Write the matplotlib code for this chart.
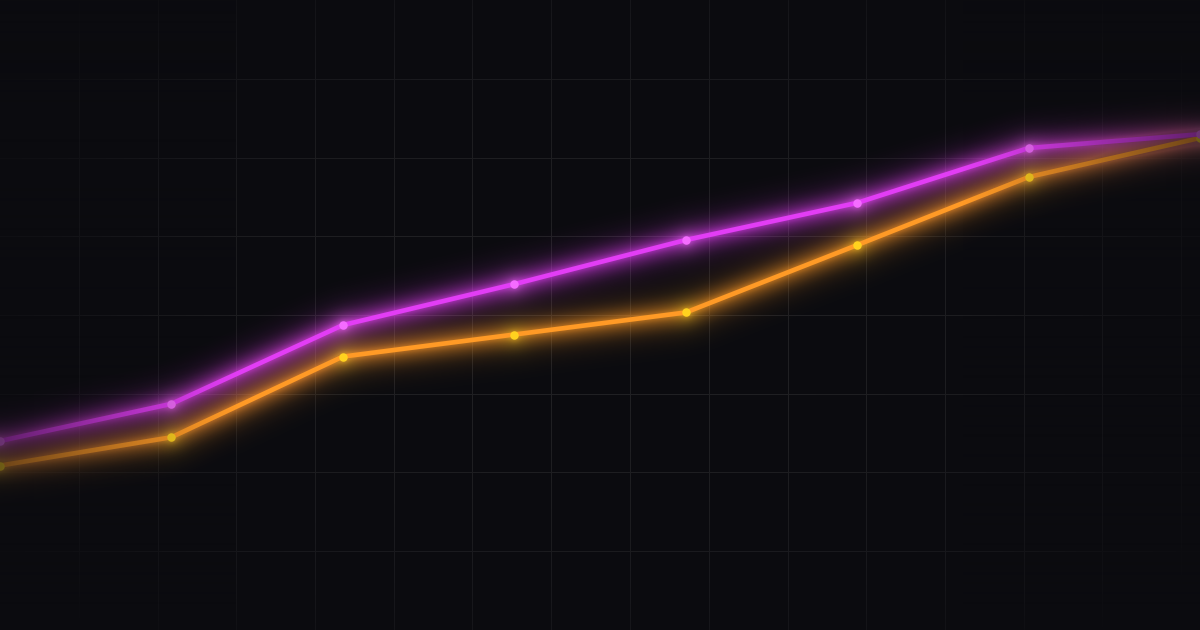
import numpy as np
import matplotlib
matplotlib.use("Agg")
import matplotlib.pyplot as plt
from matplotlib.colors import to_rgb

# ---- data ----
categories = ["P1", "P2", "P3", "P4", "P5", "P6", "P7", "P8"]
series_purple = [30.0, 35.9, 48.4, 54.9, 61.9, 67.8, 76.5, 78.7]
series_orange = [26.1, 30.6, 43.4, 46.9, 50.4, 61.1, 71.9, 78.1]

# ---- style ----
BG = "#0b0b0f"
PURPLE = "#e23df5"
PURPLE_DOT = "#f46cff"
ORANGE = "#ff9a26"
ORANGE_DOT = "#ffd21f"

W, H, DPI = 1200, 630, 100
PX = 72.0 / DPI  # points per pixel
x = np.arange(len(categories))
XLIM = (0, len(categories) - 1)
YLIM = (0, 100)

series = [(series_orange, ORANGE, ORANGE_DOT), (series_purple, PURPLE, PURPLE_DOT)]

# ---- offscreen glow source (same scales) ----
fig2 = plt.figure(figsize=(W / DPI, H / DPI), dpi=DPI, facecolor="black")
ax2 = fig2.add_axes([0, 0, 1, 1])
ax2.set_facecolor("black")
ax2.set_xlim(*XLIM)
ax2.set_ylim(*YLIM)
ax2.axis("off")
for vals, c, dc in series:
    ax2.plot(x, vals, color=c, lw=6 * PX, solid_capstyle="round", solid_joinstyle="round")
    ax2.plot(x, vals, ls="none", marker="o", ms=10 * PX, mfc=dc, mec="none")
fig2.canvas.draw()
src = np.asarray(fig2.canvas.buffer_rgba())[..., :3].astype(float) / 255.0
plt.close(fig2)


def gauss_mat(n, sigma):
    i = np.arange(n)
    k = np.exp(-0.5 * ((i[:, None] - i[None, :]) / sigma) ** 2)
    return k / k.sum(axis=1, keepdims=True)


def blur(a, sigma):
    ky = gauss_mat(a.shape[0], sigma)
    kx = gauss_mat(a.shape[1], sigma)
    out = np.empty_like(a)
    for ch in range(a.shape[2]):
        out[..., ch] = ky @ a[..., ch] @ kx.T
    return out


glow = 0.4 * blur(src, 3.0) + 1.9 * blur(src, 9.0) + 1.6 * blur(src, 18.0)
peak = glow.max(axis=2)
alpha = np.clip(peak, 0, 1) * 0.72
col = glow / np.maximum(peak, 1e-6)[..., None]
col = np.clip(col, 0, 1)
glow_img = np.dstack([col, alpha])

# ---- main figure ----
fig = plt.figure(figsize=(W / DPI, H / DPI), dpi=DPI, facecolor=BG)
ax = fig.add_axes([0, 0, 1, 1])
ax.set_facecolor(BG)
ax.set_xlim(*XLIM)
ax.set_ylim(*YLIM)
ax.axis("off")

# grid as masked background image
yy, xx = np.mgrid[0:H, 0:W]
step = H / 8.0
gx = np.zeros(W)
gy = np.zeros(H)
for k in range(1, int(W / step) + 1):
    i = int(round(k * step))
    if 0 <= i < W:
        gx[i] = 1.0
for k in range(1, 8):
    i = int(round(k * step))
    if 0 <= i < H:
        gy[i] = 1.0
grid = np.maximum(gx[None, :], gy[:, None])
r2 = ((xx - W / 2) / (W / 2 * 1.35)) ** 2 + ((yy - H / 2) / (H / 2 * 1.35)) ** 2
mask = np.clip(1 - r2, 0, 1) ** 0.8
img = np.zeros((H, W, 4))
img[..., 0:3] = 1.0
img[..., 3] = grid * mask * 0.09
ax.imshow(img, extent=(0, 1, 0, 1), transform=ax.transAxes, aspect="auto",
          interpolation="none", zorder=0, origin="upper")

# glow layer
ax.imshow(glow_img, extent=(0, 1, 0, 1), transform=ax.transAxes, aspect="auto",
          interpolation="none", zorder=1, origin="upper")

# crisp lines and dots
z = 2
for vals, c, dc in series:
    ax.plot(x, vals, color=c, lw=4.6 * PX, solid_capstyle="round",
            solid_joinstyle="round", zorder=z)
    ax.plot(x, vals, ls="none", marker="o", ms=8.5 * PX, mfc=dc, mec="none", zorder=z + 1)
    z += 2

# edge fade overlay
t = np.linspace(0, 1, W)
edge = 0.2
fade = np.zeros_like(t)
left = t < edge
right = t > 1 - edge
fade[left] = 1 - t[left] / edge
fade[right] = (t[right] - (1 - edge)) / edge
fade = fade ** 1.2 * 0.6
ov = np.zeros((1, W, 4))
ov[..., 0:3] = to_rgb(BG)
ov[..., 3] = fade
ax.imshow(ov, extent=(0, 1, 0, 1), transform=ax.transAxes, aspect="auto",
          interpolation="bilinear", zorder=20)

fig.savefig("out.png", dpi=DPI, facecolor=BG)
